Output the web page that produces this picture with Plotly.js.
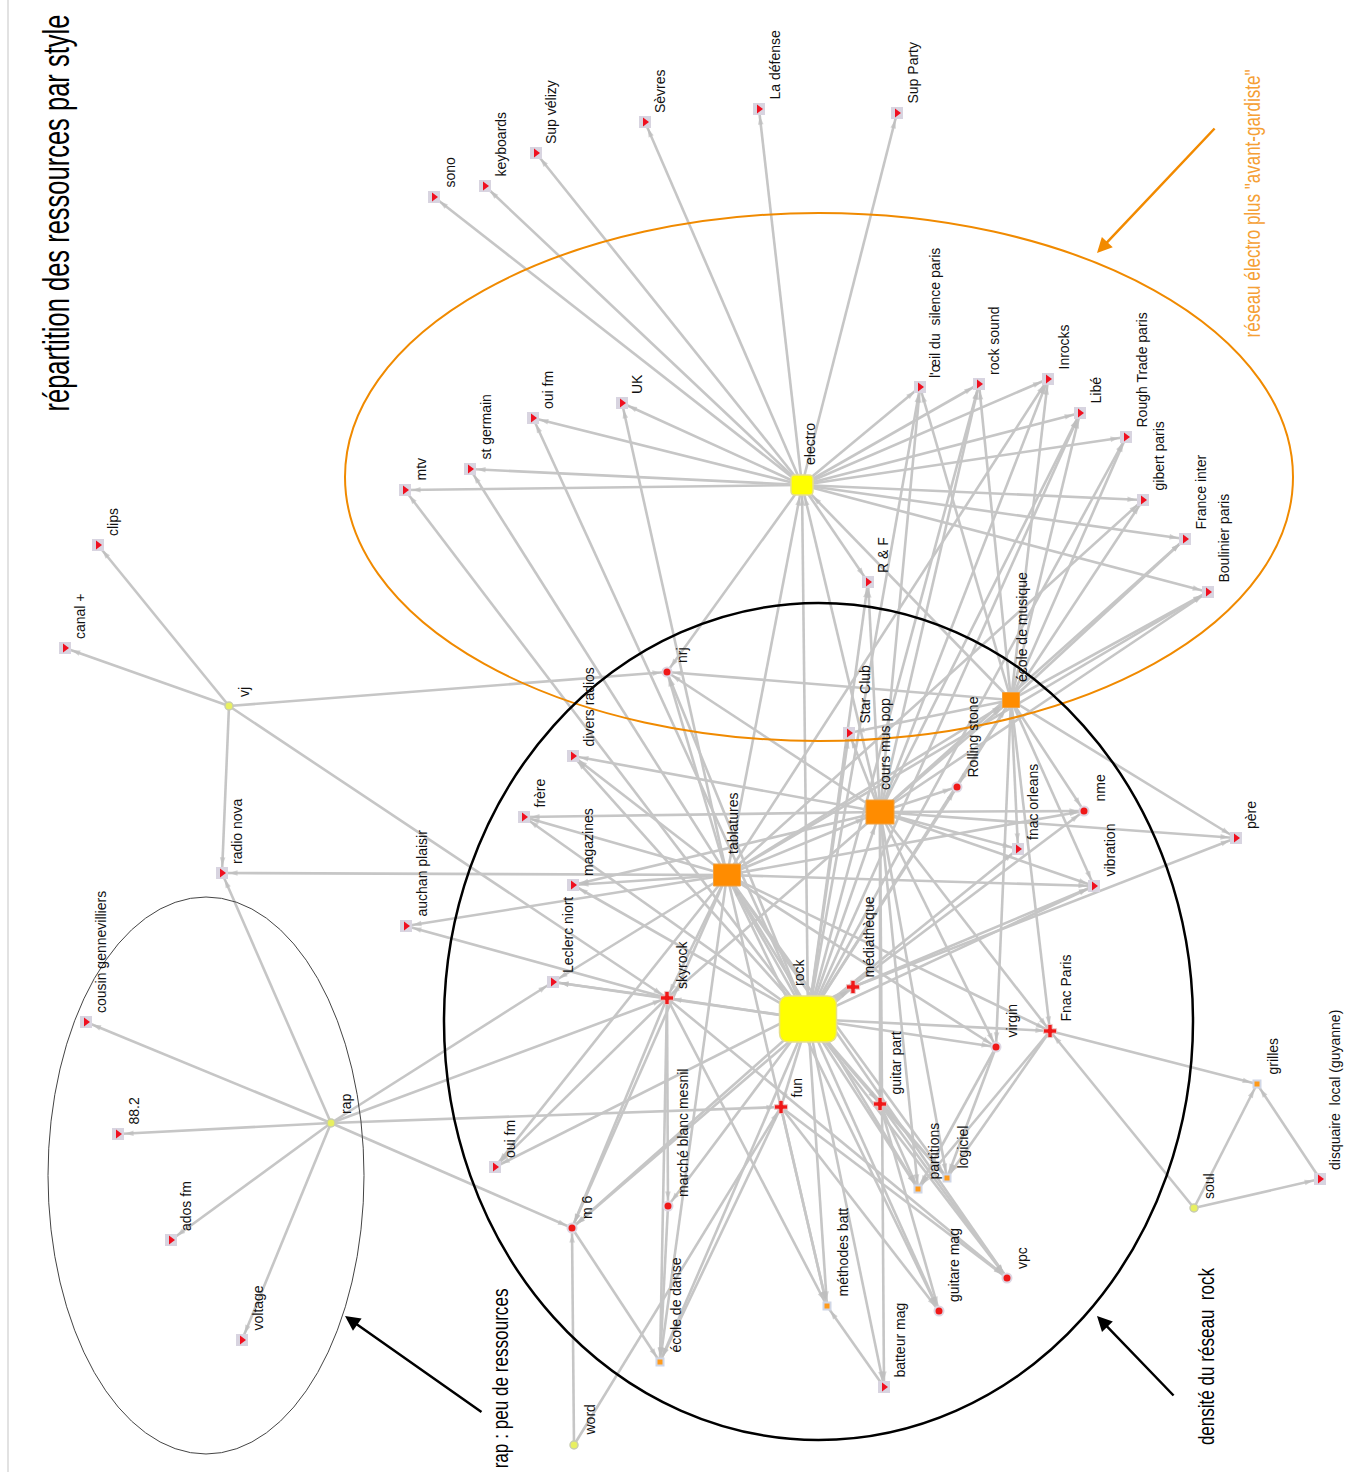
<!DOCTYPE html>
<html><head><meta charset="utf-8">
<script src="https://cdn.plot.ly/plotly-3.0.1.min.js"></script>
<style>html,body{margin:0;padding:0;background:#fff}</style>
</head><body><div id="chart" style="width:1354px;height:1472px"></div>
<script>
// ---------- DATA ----------
const nodeIds = ["electro","rock","tablatures","coursmus","ecolemus","sono","keyboards","supvelizy","sevres","ladefense","supparty","oeil","rocksound","inrocks","libe","roughtrade","gibert","franceinter","boulinier","rf","starclub","rolling","nme","fnacorleans","pere","vibration","mtv","stgermain","ouifm1","uk","nrj","divers","frere","magazines","auchan","leclerc","skyrock","ouifm2","m6","marche","ecoledanse","word","fun","methodes","batteur","mediatheque","guitarpart","partitions","logiciel","guitaremag","vpc","virgin","fnacparis","soul","grilles","disquaire","vj","clips","canal","radionova","rap","cousin","r882","adosfm","voltage"];
const nodeLabels = ["electro","rock","tablatures","cours mus pop","école de musique","sono","keyboards","Sup vélizy","Sèvres","La défense","Sup Party","l'œil du\u00a0 silence paris","rock sound","Inrocks","Libé","Rough Trade paris","gibert paris","France inter","Boulinier paris","R & F","Star Club","Rolling stone","nme","fnac orleans","père","vibration","mtv","st germain","oui fm","UK","nrj","divers radios","frère","magazines","auchan plaisir","Leclerc niort","skyrock","oui fm","m 6","marché blanc mesnil","école de danse","word","fun","méthodes batt","batteur mag","médiathèque","guitar part","partitions","logiciel","guitare mag","vpc","virgin","Fnac Paris","soul","grilles","disquaire\u00a0 local (guyanne)","vj","clips","canal +","radio nova","rap","cousin gennevilliers","88.2","ados fm","voltage"];
const nodeX = [802,808,727,880,1011,434,485,536,645,759,897,920,979,1048,1080,1126,1143,1185,1208,868,849,957,1084,1018,1236,1094,405,470,533,622,667,573,524,573,406,553,667,495,572,668,660,574,781,827,884,853,880,918,947,939,1007,996,1050,1194,1257,1320,229,98,65,222,331,86,118,171,242];
const nodeY = [485,1019,875,812,700,197,186,153,122,109,113,387,384,379,413,437,500,539,592,582,733,787,811,849,838,886,490,469,418,403,672,756,817,885,926,982,998,1167,1228,1206,1362,1445,1107,1306,1387,987,1104,1189,1178,1311,1278,1047,1031,1208,1084,1179,706,545,648,873,1123,1022,1134,1240,1340];
const nodeKind = ["hubY","hubY","hubO","hubO","hubO","leaf","leaf","leaf","leaf","leaf","leaf","leaf","leaf","leaf","leaf","leaf","leaf","leaf","leaf","leaf","leaf","dot","dot","leaf","leaf","leaf","leaf","leaf","leaf","leaf","dot","leaf","leaf","leaf","leaf","leaf","plus","leaf","dot","dot","smallO","green","plus","smallO","leaf","plus","plus","smallO","smallO","dot","dot","dot","plus","green","smallO","leaf","green","leaf","leaf","leaf","green","leaf","leaf","leaf","leaf"];

const edgeFrom = [
 "electro","electro","electro","electro","electro","electro","electro","electro","electro","electro","electro","electro","electro","electro","electro","electro","electro","electro","electro","electro",
 "rock","tablatures","coursmus","ecolemus",
 "rock","rock","rock","rock","rock","rock","rock","rock","rock","rock","rock","rock","rock","rock","rock","rock","rock","rock","rock","rock","rock","rock","rock","rock","rock","rock","rock","rock","rock","rock","rock","rock","rock","rock","rock",
 "tablatures","tablatures","tablatures","tablatures","tablatures","tablatures","tablatures","tablatures","tablatures","tablatures","tablatures","tablatures","tablatures","tablatures","tablatures","tablatures","tablatures","tablatures","tablatures","tablatures","tablatures","tablatures","tablatures","tablatures","tablatures","tablatures","tablatures",
 "coursmus","coursmus","coursmus","coursmus","coursmus","coursmus","coursmus","coursmus","coursmus","coursmus","coursmus","coursmus","coursmus","coursmus","coursmus","coursmus","coursmus","coursmus","coursmus","coursmus","coursmus","coursmus","coursmus","coursmus","coursmus",
 "ecolemus","ecolemus","ecolemus","ecolemus","ecolemus","ecolemus","ecolemus","ecolemus","ecolemus","ecolemus","ecolemus","ecolemus","ecolemus","ecolemus","ecolemus","ecolemus","ecolemus",
 "vj","vj","vj","vj","vj",
 "rap","rap","rap","rap","rap","rap","rap","rap","rap",
 "skyrock","skyrock","skyrock","skyrock","skyrock","skyrock","skyrock","skyrock",
 "fun","fun","fun","fun","word","word",
 "mediatheque","mediatheque","mediatheque","mediatheque",
 "guitarpart","guitarpart","guitarpart","guitarpart",
 "fnacparis","fnacparis","fnacparis","virgin","virgin",
 "soul","soul","soul","disquaire","marche","batteur","m6"];
const edgeTo = [
 "sono","keyboards","supvelizy","sevres","ladefense","supparty","mtv","stgermain","ouifm1","uk","oeil","rocksound","inrocks","libe","roughtrade","gibert","franceinter","boulinier","rf","nrj",
 "electro","electro","electro","electro",
 "mtv","ouifm1","nrj","divers","frere","magazines","leclerc","skyrock","tablatures","coursmus","ecolemus","mediatheque","starclub","rf","rolling","oeil","rocksound","roughtrade","nme","fnacorleans","vibration","virgin","fnacparis","guitarpart","partitions","logiciel","guitaremag","vpc","methodes","batteur","fun","marche","ecoledanse","m6","libe",
 "radionova","auchan","magazines","frere","divers","stgermain","uk","nrj","leclerc","skyrock","coursmus","ecolemus","virgin","fnacparis","partitions","logiciel","guitaremag","vpc","methodes","ecoledanse","m6","ouifm2","vibration","nme","gibert","boulinier","inrocks",
 "frere","magazines","divers","nrj","starclub","rf","rolling","nme","fnacorleans","vibration","pere","ecolemus","batteur","partitions","logiciel","guitarpart","virgin","fnacparis","oeil","rocksound","inrocks","libe","boulinier","skyrock","franceinter",
 "oeil","rocksound","inrocks","libe","roughtrade","gibert","franceinter","boulinier","nme","fnacorleans","vibration","pere","fnacparis","virgin","starclub","nrj","rolling",
 "canal","clips","radionova","nrj","skyrock",
 "cousin","r882","adosfm","voltage","radionova","leclerc","skyrock","fun","m6",
 "auchan","leclerc","m6","ouifm2","marche","ecoledanse","methodes","vpc",
 "methodes","guitaremag","vpc","ecoledanse","m6","fun",
 "pere","vibration","m6","ouifm2",
 "partitions","logiciel","vpc","guitaremag",
 "grilles","logiciel","partitions","logiciel","partitions",
 "grilles","disquaire","fnacparis","grilles","ecoledanse","methodes","ecoledanse"];

const titleText = "répartition des ressources par style";
const noteElectro = "réseau électro plus \"avant-gardiste\"";
const noteRap = "rap : peu de ressources";
const noteRock = "densité du réseau\u00a0 rock";

// ---------- STYLE ----------
const hubBox = {rock:[57,46], electro:[22,20], tablatures:[27,22], coursmus:[28,24], ecolemus:[17,15]};
const kindStand = {leaf:7, dot:6, plus:6, smallO:6, green:6};
const labelFont = {family:"Liberation Sans, Arial, sans-serif", size:14, color:"#111"};
const sans = "Liberation Sans, Arial, sans-serif";
const EDGE = "#c6c6c6";

const idx = {}; nodeIds.forEach((id,i)=>idx[id]=i);

// edges
const ex=[], ey=[], es=[], ea=[], eso=[];
edgeFrom.forEach((f,k)=>{
  const a=idx[f], b=idx[edgeTo[k]];
  const x0=nodeX[a], y0=nodeY[a], x1=nodeX[b], y1=nodeY[b];
  const dx=x1-x0, dy=y1-y0, L=Math.hypot(dx,dy);
  const ang=Math.atan2(dx,-dy)*180/Math.PI;
  let st;
  const hb=hubBox[nodeIds[b]];
  if(hb){ const ux=Math.abs(dx/L)||1e-6, uy=Math.abs(dy/L)||1e-6; st=Math.min(hb[0]/2/ux, hb[1]/2/uy)+2; }
  else st=kindStand[nodeKind[b]];
  ex.push(x0,x1,null); ey.push(y0,y1,null);
  es.push(0,9,0); ea.push(0,ang,0); eso.push(0,st,0);
});
const traces=[{
  type:"scatter", mode:"lines+markers", x:ex, y:ey, hoverinfo:"skip",
  line:{color:EDGE, width:2.6},
  marker:{symbol:"arrow", size:es, angle:ea, standoff:eso, color:"#bdbdbd", line:{width:0}}
}];

function pick(kind){ const xs=[],ys=[]; nodeKind.forEach((k,i)=>{ if(k===kind){xs.push(nodeX[i]);ys.push(nodeY[i]);} }); return {x:xs,y:ys}; }
const pl=pick("leaf"), pd=pick("dot"), pp=pick("plus"), po=pick("smallO"), pg=pick("green");
traces.push({type:"scatter",mode:"markers",x:pl.x,y:pl.y,hoverinfo:"skip",marker:{symbol:"square",size:12,color:"#d8d4e0",line:{width:0}}});
traces.push({type:"scatter",mode:"markers",x:pl.x,y:pl.y,hoverinfo:"skip",marker:{symbol:"triangle-right",size:8,color:"#f01020",line:{width:0}}});
traces.push({type:"scatter",mode:"markers",x:pd.x,y:pd.y,hoverinfo:"skip",marker:{symbol:"circle",size:9,color:"#f01818",line:{width:2,color:"#ddd6e2"}}});
traces.push({type:"scatter",mode:"markers",x:pp.x,y:pp.y,hoverinfo:"skip",marker:{symbol:"cross",size:11,color:"#f01818",line:{width:1,color:"#e8c8c8"}}});
traces.push({type:"scatter",mode:"markers",x:po.x,y:po.y,hoverinfo:"skip",marker:{symbol:"square",size:7,color:"#ff9a1a",line:{width:2,color:"#cfd6e6"}}});
traces.push({type:"scatter",mode:"markers",x:pg.x,y:pg.y,hoverinfo:"skip",marker:{symbol:"circle",size:8,color:"#e8f060",line:{width:1.5,color:"#c8ccb0"}}});

// shapes
const shapes=[];
shapes.push({type:"line",xref:"x",yref:"y",x0:8,x1:8,y0:0,y1:1472,line:{color:"#cfcfcf",width:1.2}});
nodeIds.forEach((id,i)=>{
  const hb=hubBox[id]; if(!hb) return;
  const x0=nodeX[i]-hb[0]/2, x1=nodeX[i]+hb[0]/2, y0=nodeY[i]-hb[1]/2, y1=nodeY[i]+hb[1]/2;
  if(nodeKind[i]==="hubY"){
    const r=Math.min(hb[0],hb[1])*0.2;
    const p=`M${x0+r},${y0} L${x1-r},${y0} Q${x1},${y0} ${x1},${y0+r} L${x1},${y1-r} Q${x1},${y1} ${x1-r},${y1} L${x0+r},${y1} Q${x0},${y1} ${x0},${y1-r} L${x0},${y0+r} Q${x0},${y0} ${x0+r},${y0} Z`;
    shapes.push({type:"path",xref:"x",yref:"y",path:p,fillcolor:"#ffff00",line:{color:"#e6df8a",width:1.5}});
  } else {
    shapes.push({type:"rect",xref:"x",yref:"y",x0,x1,y0,y1,fillcolor:"#ff8c00",line:{color:"#f0a040",width:1}});
  }
});
shapes.push({type:"circle",xref:"x",yref:"y",x0:345,x1:1293,y0:213,y1:741,line:{color:"#f08a00",width:2}});
shapes.push({type:"circle",xref:"x",yref:"y",x0:444,x1:1193,y0:603,y1:1440,line:{color:"#000",width:2.5}});
shapes.push({type:"circle",xref:"x",yref:"y",x0:48,x1:364,y0:897,y1:1454,line:{color:"#444",width:1}});

// annotations
const ann=[];
nodeIds.forEach((id,i)=>{
  const hb=hubBox[id];
  let lx, ly;
  if(hb){ lx=nodeX[i]-hb[0]/2+10; ly=nodeY[i]-hb[1]/2-9; }
  else { lx=nodeX[i]+6; ly=nodeY[i]-8; }
  ann.push({x:lx,y:ly,xref:"x",yref:"y",text:nodeLabels[i],showarrow:false,textangle:-90,xanchor:"left",yanchor:"bottom",borderpad:0,font:labelFont});
});
const squeeze = [];  // [annotation index, target length in px]
squeeze.push([ann.length, 397]);
ann.push({x:56,y:213,xref:"x",yref:"y",text:titleText,showarrow:false,textangle:-90,xanchor:"center",yanchor:"middle",font:{family:sans,size:37,color:"#000"}});
squeeze.push([ann.length, 268]);
ann.push({x:1252,y:204,xref:"x",yref:"y",text:noteElectro,showarrow:false,textangle:-90,xanchor:"center",yanchor:"middle",font:{family:sans,size:22,color:"#f5a035"}});
squeeze.push([ann.length, 180]);
ann.push({x:500,y:1379,xref:"x",yref:"y",text:noteRap,showarrow:false,textangle:-90,xanchor:"center",yanchor:"middle",font:{family:sans,size:22,color:"#000"}});
squeeze.push([ann.length, 178]);
ann.push({x:1206,y:1356,xref:"x",yref:"y",text:noteRock,showarrow:false,textangle:-90,xanchor:"center",yanchor:"middle",font:{family:sans,size:22,color:"#000"}});
ann.push({x:1097,y:253,ax:1216,ay:127,xref:"x",yref:"y",axref:"x",ayref:"y",text:"",showarrow:true,arrowhead:2,arrowsize:1.2,arrowwidth:2.5,arrowcolor:"#f28a00"});
ann.push({x:345,y:1316,ax:483,ay:1413,xref:"x",yref:"y",axref:"x",ayref:"y",text:"",showarrow:true,arrowhead:2,arrowsize:1.2,arrowwidth:2.5,arrowcolor:"#000"});
ann.push({x:1097,y:1316,ax:1175,ay:1397,xref:"x",yref:"y",axref:"x",ayref:"y",text:"",showarrow:true,arrowhead:2,arrowsize:1.2,arrowwidth:2.5,arrowcolor:"#000"});

const layout={
  width:1354,height:1472,margin:{l:0,r:0,t:0,b:0},
  paper_bgcolor:"#fff",plot_bgcolor:"#fff",showlegend:false,
  xaxis:{range:[0,1354],visible:false,fixedrange:true},
  yaxis:{range:[1472,0],visible:false,fixedrange:true},
  shapes, annotations:ann
};
Plotly.newPlot("chart",traces,layout,{staticPlot:true,displayModeBar:false}).then(gd=>{
  // condensed lettering: squeeze the rotated texts along their reading direction
  squeeze.forEach(([i,len])=>{
    const t = gd.querySelector('.annotation[data-index="'+i+'"] text.annotation-text');
    if(!t) return;
    const b = t.getBBox();
    if(!b.width) return;
    const s = len / b.width;
    const cx = b.x + b.width/2, cy = b.y + b.height/2;
    const prev = t.getAttribute('transform') || '';
    t.setAttribute('transform', prev + ' translate('+cx+','+cy+') scale('+s+',1) translate('+(-cx)+','+(-cy)+')');
  });
});
</script></body></html>
